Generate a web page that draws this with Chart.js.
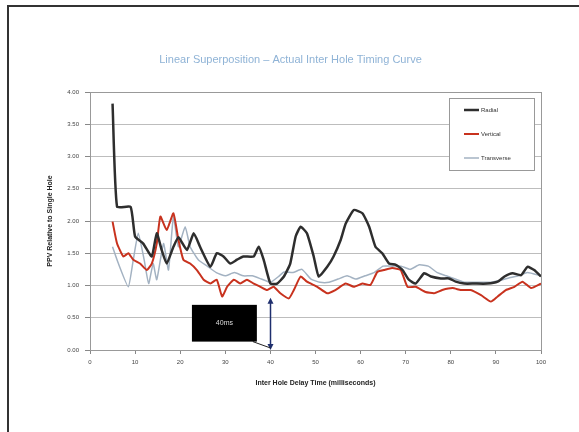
<!DOCTYPE html>
<html>
<head>
  <title>Linear Superposition - Actual Inter Hole Timing Curve</title>
  <script src="https://cdn.jsdelivr.net/npm/chart.js"></script>
  <style>
    body { margin: 0; background: #fff; }
    canvas { display: block; }
  </style>
</head>
<body>
  <canvas id="timingChart" width="579" height="432"></canvas>
  <script>
    // values (delay in ms, PPV relative to single hole)
    const radialDelay = [5, 6, 9, 10, 11.8, 13.7, 14.8, 15.9, 17, 18.5, 19.6, 21.5, 23, 24.4, 26.7, 28.1, 29.6, 31.1, 32.6, 34, 36.3, 37.4, 38.5, 40, 41.5, 43, 44.4, 45.6, 46.7, 48.1, 49.6, 50.7, 52.6, 54, 55.6, 56.7, 58.5, 60.4, 61.9, 63.3, 64.8, 66.3, 67.8, 69.3, 70.7, 72.2, 74.1, 75.6, 77.8, 79.6, 81.1, 83, 85.2, 88.1, 90.4, 91.9, 93.7, 95.6, 97, 98.5, 100];
    const radialPPV = [3.82, 2.22, 2.22, 1.76, 1.65, 1.45, 1.81, 1.55, 1.34, 1.6, 1.75, 1.55, 1.81, 1.6, 1.29, 1.5, 1.45, 1.34, 1.4, 1.45, 1.45, 1.6, 1.4, 1.03, 1.03, 1.14, 1.34, 1.76, 1.91, 1.81, 1.45, 1.14, 1.29, 1.45, 1.71, 1.96, 2.17, 2.12, 1.91, 1.6, 1.5, 1.34, 1.32, 1.24, 1.09, 1.03, 1.19, 1.14, 1.11, 1.11, 1.06, 1.03, 1.03, 1.03, 1.06, 1.14, 1.19, 1.16, 1.29, 1.24, 1.14];

    const verticalDelay = [5, 6, 7.4, 8.5, 9.6, 11.1, 12.6, 13.7, 14.8, 15.6, 17, 18.5, 19.6, 20.7, 22.2, 23.7, 25.2, 26.7, 28.1, 29.3, 30.4, 31.9, 33.3, 34.8, 36.3, 37.8, 39.3, 40.7, 42.2, 44.1, 45.2, 46.7, 48.1, 50.4, 52.6, 54.4, 56.7, 58.5, 60.4, 62.2, 63.7, 65.2, 67, 68.9, 70.4, 72.2, 74.4, 76.3, 78.1, 80.4, 82.2, 84.4, 86.7, 88.9, 90.4, 92.2, 94.1, 95.9, 97.8, 100];
    const verticalPPV = [1.99, 1.65, 1.45, 1.5, 1.4, 1.34, 1.24, 1.34, 1.65, 2.07, 1.86, 2.12, 1.71, 1.4, 1.34, 1.24, 1.09, 1.03, 1.09, 0.83, 0.98, 1.09, 1.03, 1.09, 1.03, 0.98, 0.93, 0.98, 0.88, 0.8, 0.93, 1.14, 1.06, 0.98, 0.88, 0.93, 1.03, 0.98, 1.03, 1.01, 1.21, 1.24, 1.27, 1.24, 0.98, 0.98, 0.9, 0.88, 0.93, 0.96, 0.93, 0.93, 0.85, 0.75, 0.83, 0.93, 0.98, 1.06, 0.96, 1.03];

    const transverseDelay = [5, 6.3, 8.5, 9.6, 10.7, 12, 13, 14, 14.8, 16.3, 17.4, 18.5, 19.6, 21.1, 22.2, 24, 26, 28, 30, 32, 34, 36, 38, 40, 42, 43, 45, 47, 49, 51, 53, 55, 57, 59, 61, 63, 65, 67, 69, 71, 73, 75, 77, 79, 81, 83, 85, 87, 89, 91, 93, 95, 97, 100];
    const transversePPV = [1.6, 1.34, 0.98, 1.4, 1.81, 1.4, 1.03, 1.34, 1.09, 1.65, 1.24, 2.07, 1.6, 1.91, 1.6, 1.4, 1.3, 1.2, 1.15, 1.2, 1.15, 1.15, 1.1, 1.05, 1.15, 1.21, 1.2, 1.25, 1.1, 1.05, 1.05, 1.1, 1.15, 1.1, 1.15, 1.2, 1.3, 1.3, 1.3, 1.25, 1.32, 1.3, 1.2, 1.15, 1.1, 1.05, 1.05, 1.05, 1.05, 1.08, 1.12, 1.15, 1.2, 1.15];

    const seriesNames = ['Radial', 'Vertical', 'Transverse'];
    const xTicks = [0, 10, 20, 30, 40, 50, 60, 70, 80, 90, 100];
    const yTicks = [0, 0.5, 1, 1.5, 2, 2.5, 3, 3.5, 4];
    const markerDelay = 40;
    const markerLabel = '40ms';

    function toPoints(xs, ys) {
      return xs.map((x, i) => ({ x: x, y: ys[i] }));
    }

    // white page, the cut-off frame (top + left only) and plot-area box
    const framePlugin = {
      id: 'frame',
      beforeDraw(chart) {
        const ctx = chart.ctx;
        ctx.save();
        ctx.fillStyle = '#fff';
        ctx.fillRect(0, 0, chart.width, chart.height);
        ctx.strokeStyle = '#333';
        ctx.lineWidth = 2;
        ctx.beginPath();
        ctx.moveTo(chart.width, 6);
        ctx.lineTo(8, 6);
        ctx.lineTo(8, chart.height);
        ctx.stroke();
        ctx.restore();
      },
      afterDraw(chart) {
        const a = chart.chartArea;
        const ctx = chart.ctx;
        ctx.save();
        ctx.strokeStyle = '#999';
        ctx.lineWidth = 1;
        ctx.strokeRect(Math.round(a.left) + 0.5, Math.round(a.top) + 0.5, Math.round(a.right - a.left), Math.round(a.bottom - a.top));
        ctx.restore();
      }
    };

    // the "40ms" call-out with its double arrow
    const markerPlugin = {
      id: 'marker',
      afterDatasetsDraw(chart) {
        const x = chart.scales.x, y = chart.scales.y;
        const ctx = chart.ctx;
        const ax = Math.round(x.getPixelForValue(markerDelay)) + 0.5;
        const top = y.getPixelForValue(0.81);
        const bot = y.getPixelForValue(0);
        ctx.save();
        ctx.strokeStyle = '#1f2f6e';
        ctx.fillStyle = '#1f2f6e';
        ctx.lineWidth = 1.5;
        ctx.beginPath();
        ctx.moveTo(ax, top + 4);
        ctx.lineTo(ax, bot - 4);
        ctx.stroke();
        [[top, 1], [bot, -1]].forEach(([py, d]) => {
          ctx.beginPath();
          ctx.moveTo(ax, py);
          ctx.lineTo(ax - 3, py + 6 * d);
          ctx.lineTo(ax + 3, py + 6 * d);
          ctx.closePath();
          ctx.fill();
        });
        const bx1 = x.getPixelForValue(22.6), bx2 = x.getPixelForValue(37.0);
        const by1 = y.getPixelForValue(0.70), by2 = y.getPixelForValue(0.13);
        ctx.strokeStyle = '#222';
        ctx.lineWidth = 1;
        ctx.beginPath();
        ctx.moveTo(bx2 - 4, by2);
        ctx.lineTo(ax, bot - 2);
        ctx.stroke();
        ctx.fillStyle = '#000';
        ctx.fillRect(bx1, by1, bx2 - bx1, by2 - by1);
        ctx.fillStyle = '#ddd';
        ctx.font = '7px "Liberation Sans", Arial, sans-serif';
        ctx.textAlign = 'center';
        ctx.textBaseline = 'middle';
        ctx.fillText(markerLabel, (bx1 + bx2) / 2, (by1 + by2) / 2);
        ctx.restore();
      }
    };

    // legend box inside the plot, top right
    const legendBoxPlugin = {
      id: 'legendBox',
      afterDraw(chart) {
        const a = chart.chartArea;
        const ctx = chart.ctx;
        const left = a.right - 92, top = a.top + 6, w = 85, h = 72;
        ctx.save();
        ctx.fillStyle = '#fff';
        ctx.fillRect(left, top, w, h);
        ctx.strokeStyle = '#999';
        ctx.lineWidth = 1;
        ctx.strokeRect(left + 0.5, top + 0.5, w, h);
        ctx.font = '6px "Liberation Sans", Arial, sans-serif';
        ctx.textBaseline = 'middle';
        ctx.fillStyle = '#333';
        chart.data.datasets.forEach((ds, i) => {
          const ly = top + 12 + i * 24;
          ctx.strokeStyle = ds.borderColor;
          ctx.lineWidth = ds.borderWidth;
          ctx.beginPath();
          ctx.moveTo(left + 15, ly);
          ctx.lineTo(left + 30, ly);
          ctx.stroke();
          ctx.fillText(ds.label, left + 32, ly);
        });
        ctx.restore();
      }
    };

    const chart = new Chart(document.getElementById('timingChart'), {
      type: 'line',
      data: {
        datasets: [
          { label: seriesNames[0], data: toPoints(radialDelay, radialPPV), borderColor: '#2e2e2e', borderWidth: 2.5 },
          { label: seriesNames[1], data: toPoints(verticalDelay, verticalPPV), borderColor: '#c8321e', borderWidth: 2 },
          { label: seriesNames[2], data: toPoints(transverseDelay, transversePPV), borderColor: '#a3b2c2', borderWidth: 1.5 }
        ]
      },
      options: {
        responsive: false,
        animation: false,
        elements: { point: { radius: 0 }, line: { tension: 0.15 } },
        layout: { padding: { left: 40, right: 38, top: 0, bottom: 30 } },
        plugins: {
          legend: { display: false },
          tooltip: { enabled: false },
          title: {
            display: true,
            text: 'Linear Superposition \u2013 Actual Inter Hole Timing Curve',
            color: '#8fb3d6',
            font: { family: '"Liberation Sans", Arial, sans-serif', size: 11, weight: 'normal' },
            padding: { top: 53, bottom: 25.8 }
          }
        },
        scales: {
          x: {
            type: 'linear',
            min: 0,
            max: 100,
            afterBuildTicks: (s) => { s.ticks = xTicks.map(v => ({ value: v })); },
            afterFit: (s) => { s.height = 52; },
            grid: { color: 'transparent', tickColor: '#888', tickLength: 4 },
            border: { color: '#888' },
            ticks: {
              color: '#444',
              padding: 5,
              maxRotation: 0,
              font: { family: '"Liberation Sans", Arial, sans-serif', size: 6 }
            },
            title: {
              display: true,
              text: 'Inter Hole Delay Time (milliseconds)',
              color: '#222',
              font: { family: '"Liberation Sans", Arial, sans-serif', size: 7, weight: 'bold' },
              padding: { top: 0, bottom: 15 }
            }
          },
          y: {
            min: 0,
            max: 4,
            afterBuildTicks: (s) => { s.ticks = yTicks.map(v => ({ value: v })); },
            afterFit: (s) => { s.width = 50; },
            grid: { color: '#bdbdbd', tickColor: '#888', tickLength: 5 },
            border: { color: '#888' },
            ticks: {
              color: '#444',
              padding: 6,
              font: { family: '"Liberation Sans", Arial, sans-serif', size: 6 },
              callback: (v) => Number(v).toFixed(2)
            },
            title: {
              display: true,
              text: 'PPV Relative to Single Hole',
              color: '#222',
              font: { family: '"Liberation Sans", Arial, sans-serif', size: 7, weight: 'bold' },
              padding: { top: 6, bottom: 0 }
            }
          }
        }
      },
      plugins: [framePlugin, markerPlugin, legendBoxPlugin]
    });
  </script>
</body>
</html>
